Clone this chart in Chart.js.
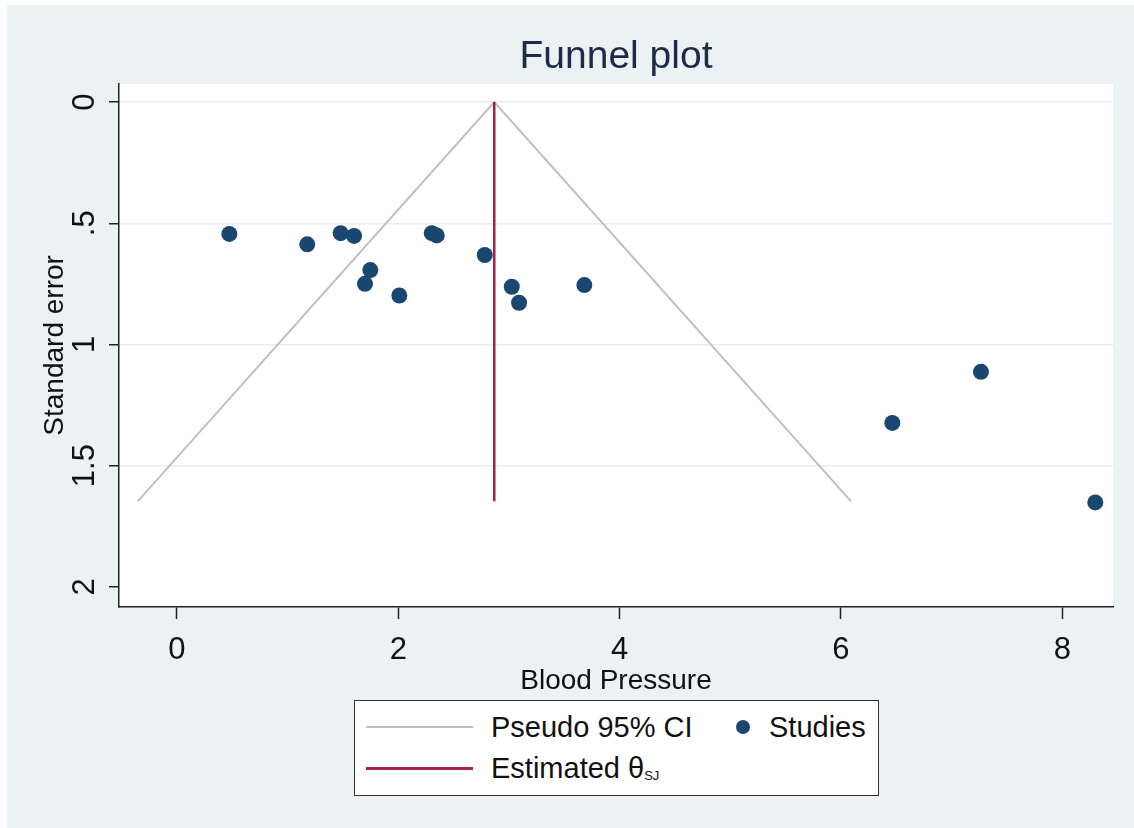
<!DOCTYPE html>
<html>
<head>
<meta charset="utf-8">
<title>Funnel plot</title>
<script src="https://cdn.jsdelivr.net/npm/chart.js@4.4.1/dist/chart.umd.min.js"></script>
<style>
  html, body { margin: 0; padding: 0; background: #fff; }
  #wrap { position: relative; width: 1134px; height: 828px; overflow: hidden; }
  #chart { position: absolute; left: 0; top: 0; }
  #legend {
    position: absolute; left: 354px; top: 700px; width: 525px; height: 96px;
    box-sizing: border-box; background: #fff; border: 1px solid #333;
    font-family: "Liberation Sans", Arial, sans-serif; color: #111;
  }
  #legend .txt { position: absolute; font-size: 29px; line-height: 29px; white-space: nowrap; }
  #legend .ln { position: absolute; left: 11px; width: 107px; }
  #legend .dot { position: absolute; width: 14px; height: 14px; border-radius: 50%; background: #1a476f; }
  #legend sub { font-size: 13px; vertical-align: -2px; }
</style>
</head>
<body>
<div id="wrap">
  <canvas id="chart" width="1134" height="828"></canvas>
  <div id="legend">
    <div class="ln" style="top:25px;height:2px;background:#c0c0c0"></div>
    <div class="txt" style="left:136px;top:12px">Pseudo 95% CI</div>
    <div class="dot" style="left:381px;top:19px"></div>
    <div class="txt" style="left:414px;top:12px">Studies</div>
    <div class="ln" style="top:66px;height:3px;background:#a8204f"></div>
    <div class="txt" style="left:136px;top:53px">Estimated θ<sub>SJ</sub></div>
  </div>
</div>
<script>
(function(){
  const FONT = '"Liberation Sans", Arial, sans-serif';

  // study effects (Blood Pressure) and their standard errors
  const studyX  = [0.473, 1.177, 1.479, 1.600, 1.747, 1.699, 2.009, 2.302, 2.347, 2.781, 3.025, 3.091, 3.681, 6.464, 7.265, 8.298];
  const studySE = [0.544, 0.587, 0.541, 0.552, 0.693, 0.750, 0.798, 0.541, 0.550, 0.631, 0.762, 0.828, 0.755, 1.324, 1.113, 1.652];

  // pseudo 95% CI funnel and the estimated theta line
  const funnelX = [-0.355, 2.867, 6.091];
  const funnelY = [1.6475, 0, 1.6475];
  const thetaX = [2.867, 2.867];
  const thetaY = [0, 1.6475];

  const xTicks = [0, 2, 4, 6, 8];
  const xTickLabels = ['0', '2', '4', '6', '8'];
  const yTicks = [0, 0.5, 1, 1.5, 2];
  const yTickLabels = ['0', '.5', '1', '1.5', '2'];

  const pts = (xs, ys) => xs.map((x, i) => ({x: x, y: ys[i]}));

  const bgPlugin = {
    id: 'bg',
    beforeDraw(chart){
      const {ctx, chartArea: a} = chart;
      ctx.save();
      ctx.fillStyle = '#ffffff';
      ctx.fillRect(0, 0, chart.width, chart.height);
      ctx.fillStyle = '#eaf2f3';
      ctx.fillRect(7, 5, chart.width - 7, chart.height - 5);
      ctx.fillStyle = '#ffffff';
      ctx.fillRect(a.left, a.top, a.right - a.left, a.bottom - a.top);
      ctx.restore();
    }
  };

  new Chart(document.getElementById('chart').getContext('2d'), {
    type: 'scatter',
    data: {
      datasets: [{
        label: 'Studies',
        data: pts(studyX, studySE),
        backgroundColor: '#1a476f',
        borderWidth: 0,
        pointRadius: 8,
        pointHoverRadius: 8
      }, {
        label: 'Estimated θSJ',
        data: pts(thetaX, thetaY),
        showLine: true,
        borderColor: '#a8204f',
        borderWidth: 2.5,
        pointRadius: 0,
        fill: false
      }, {
        label: 'Pseudo 95% CI',
        data: pts(funnelX, funnelY),
        showLine: true,
        borderColor: '#c0c0c0',
        borderWidth: 2,
        pointRadius: 0,
        fill: false
      }]
    },
    options: {
      responsive: false,
      animation: false,
      devicePixelRatio: 1,
      layout: { padding: { top: 0, left: 0, right: 21, bottom: 121 } },
      plugins: {
        legend: { display: false },
        tooltip: { enabled: false },
        title: {
          display: true,
          fullSize: false,
          text: 'Funnel plot',
          color: '#1e2a48',
          font: { family: FONT, size: 39, weight: 'normal' },
          padding: { top: 34, bottom: 3 }
        }
      },
      scales: {
        x: {
          type: 'linear',
          min: -0.524,
          max: 8.458,
          afterBuildTicks: s => { s.ticks = xTicks.map(v => ({value: v})); },
          afterFit: s => { s.height = 100; },
          grid: { drawOnChartArea: false, tickLength: 12, tickColor: '#222', tickWidth: 1.5 },
          border: { color: '#222', width: 1.5 },
          ticks: {
            autoSkip: false, maxRotation: 0, padding: 13, color: '#111',
            font: { family: FONT, size: 31 },
            callback: v => xTickLabels[xTicks.indexOf(v)]
          },
          title: {
            display: true, text: 'Blood Pressure', color: '#111',
            font: { family: FONT, size: 28 },
            padding: { top: 0, bottom: 8.5 }
          }
        },
        y: {
          type: 'linear',
          reverse: true,
          min: -0.0756,
          max: 2.0835,
          afterBuildTicks: s => { s.ticks = yTicks.map(v => ({value: v})); },
          afterFit: s => { s.width = 119; },
          grid: {
            color: c => (c.tick && c.tick.value === 2) ? 'rgba(0,0,0,0)' : '#e8eeee',
            lineWidth: 1.5, tickLength: 10, tickColor: '#222', tickWidth: 1.5
          },
          border: { color: '#222', width: 1.5 },
          ticks: {
            autoSkip: false, minRotation: 90, maxRotation: 90, crossAlign: 'center',
            padding: 1.5, color: '#111',
            font: { family: FONT, size: 31 },
            callback: v => yTickLabels[yTicks.indexOf(v)]
          },
          title: {
            display: true, text: 'Standard error', color: '#111',
            font: { family: FONT, size: 28 },
            padding: { top: 38.5, bottom: 0 }
          }
        }
      }
    },
    plugins: [bgPlugin]
  });
})();
</script>
</body>
</html>
